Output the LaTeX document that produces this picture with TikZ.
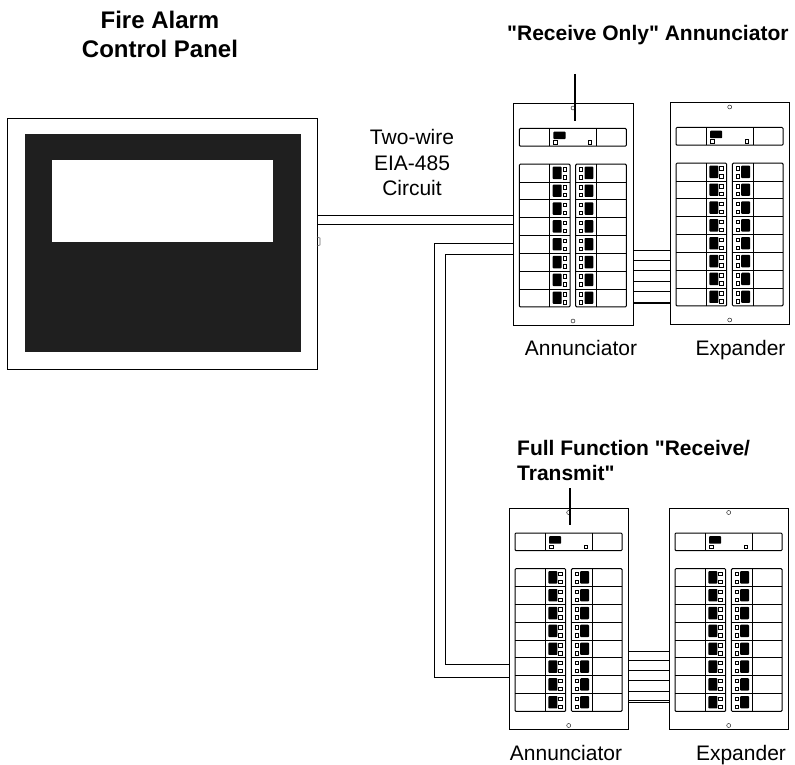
\documentclass[tikz,border=0pt]{standalone}
\usepackage{fontspec}
\setmainfont{Liberation Sans}[Ligatures=TeXOff]
\usetikzlibrary{positioning}
\tikzset{
  wire/.style={line width=.8pt},
  lbl/.style={align=center,font=\fontsize{21}{25.5}\selectfont,inner sep=0pt},
  blbl/.style={lbl,font=\fontsize{21}{25}\selectfont\bfseries},
  tlbl/.style={lbl,font=\fontsize{24}{29}\selectfont\bfseries},
  frame/.style={draw,line width=1pt,minimum width=#1,minimum height=221pt,inner sep=0pt,anchor=north west},
  frame/.default=119.4pt,
  cell/.style={draw,line width=1pt},
  led/.style={draw,line width=.5pt,fill=white},
  blk/.style={fill=black,rounded corners=.8pt},
  screw/.style={circle,draw,line width=.4pt,inner sep=0pt,minimum size=4pt}
}
% one annunciator or expander face, top left corner at #1,#2
\newcommand{\annface}[3]{%
\begin{scope}[shift={(#1,#2)}]
\node[frame](#3)at(0,0){};
\node[screw](#3top)at(59.7,4.5){};\node[screw](#3bot)at(59.7,217.5){};
\draw[cell,rounded corners=1pt](6,25)rectangle(113,42.7);
\draw[cell](36.2,25)--(36.2,42.7)(83,25)--(83,42.7);
\fill[blk](40,28.2)rectangle(52.2,35.6);
\draw[led](40.2,37.2)rectangle(43.8,40.4)(75,37.2)rectangle(78.4,40.4);
\draw[cell,rounded corners=1pt](6,60.7)rectangle(56.7,203.4);
\draw[cell,rounded corners=1pt](62.4,60.7)rectangle(113,203.4);
\draw[cell](36.2,60.7)--(36.2,203.4)(83,60.7)--(83,203.4);
\foreach\i in{0,...,7}{
  \ifnum\i>0 \draw[cell](6,60.7+17.84*\i)--(56.7,60.7+17.84*\i)(62.4,60.7+17.84*\i)--(113,60.7+17.84*\i);\fi
  \fill[blk](39.4,63.2+17.84*\i)rectangle(48.4,75.6+17.84*\i);
  \fill[blk](71.2,63.2+17.84*\i)rectangle(80,75.6+17.84*\i);
  \draw[led](49.5,64+17.84*\i)rectangle(53,67.5+17.84*\i)(49.5,72+17.84*\i)rectangle(53,75.4+17.84*\i);
  \draw[led](66,64+17.84*\i)rectangle(69.4,67.5+17.84*\i)(66,72+17.84*\i)rectangle(69.4,75.4+17.84*\i);
}
\end{scope}}
\begin{document}
\begin{tikzpicture}[x=1pt,y=-1pt]
\useasboundingbox(0,0)rectangle(795,765);
% control panel
\node[draw,line width=.9pt,minimum width=310pt,minimum height=250.5pt,inner sep=0pt,anchor=north west](facp)at(7.3,118.5){};
\node[fill=black!88,minimum width=276pt,minimum height=218pt,inner sep=0pt,anchor=north west](facpface)at(24.3,134){};
\node[fill=white,minimum width=221pt,minimum height=82pt,inner sep=0pt,anchor=north west](facpwin)at(51.7,160){};
\draw[line width=.6pt,draw=black!60](317,237)--(320,238)--(320,245)--(317,246);
\annface{513.3}{103.5}{annA}
\annface{670}{102.5}{expA}
\annface{509}{508}{annB}
\annface{669}{508}{expB}
% circuit
\coordinate(wireA)at(317,215);\coordinate(wireB)at(317,224);
\draw[wire](wireA)--(wireA-|annA.west);
\draw[wire](wireB)--(wireB-|annA.west);
\coordinate(loopA)at(513.3,243.5);\coordinate(loopB)at(513.3,254);
\coordinate(loopC)at(509,677.5);\coordinate(loopD)at(509,664.5);
\draw[wire](loopA)-|(434,677.5)--(loopC);
\draw[wire](loopB)-|(445.5,664.5)--(loopD);
% ribbons between the panels
\foreach\y in{250.7,260.7,270.7,281,291,302,303.4}\draw[line width=1pt](annA.east|-0,\y)--(expA.west|-0,\y);
\foreach\y in{651,660.5,670.5,680.5,691,700.5,702}\draw[line width=1pt](annB.east|-0,\y)--(expB.west|-0,\y);
% leaders
\coordinate(leadA)at(575,74);\coordinate(leadB)at(570,488);
\draw[line width=1.6pt](leadA)--(575,121);
\draw[line width=1.6pt](leadB)--(570,525);
% labels
\node[tlbl](titleA)at(160,34){Fire Alarm\\Control Panel};
\node[blbl,anchor=west](titleB)at(507,35.5){"Receive Only" Annunciator};
\node[lbl](circuit)at(412,162.5){Two-wire\\EIA-485\\Circuit};
\node[lbl,anchor=base](annlblA)at(581,355){Annunciator};
\node[lbl,anchor=base](explblA)at(740.5,355){Expander};
\node[blbl,anchor=west,align=left](titleC)at(517,460.5){Full Function "Receive/\\Transmit"};
\node[lbl,anchor=base](annlblB)at(566,760){Annunciator};
\node[lbl,anchor=base](explblB)at(741,760){Expander};
\end{tikzpicture}
\end{document}
